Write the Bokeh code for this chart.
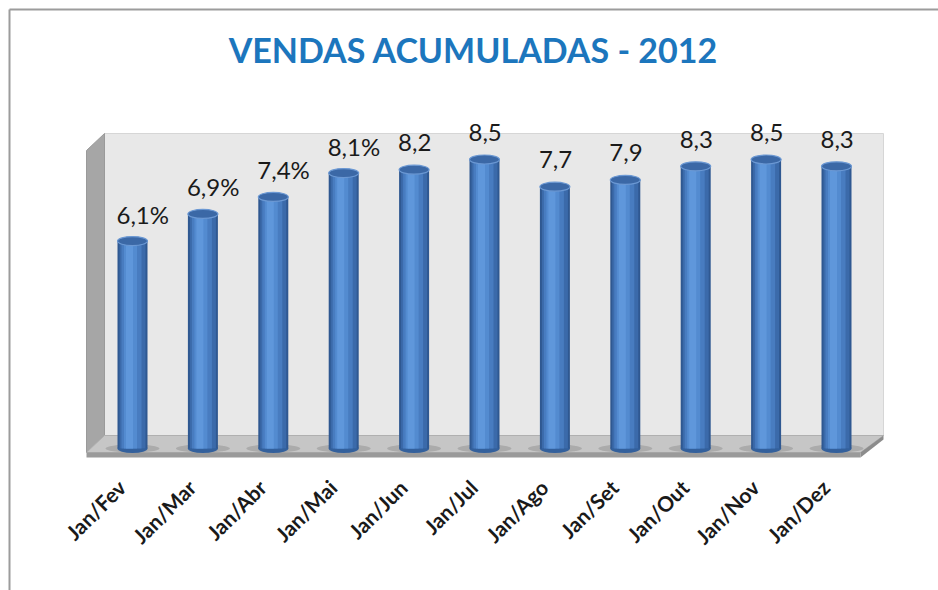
import numpy as np
from bokeh.plotting import figure
from bokeh.models import Range1d, Label
from bokeh.transform import dodge
from bokeh.core.properties import value
from bokeh.embed import file_html
from bokeh.resources import INLINE

# ---- data ----
periods = ["Jan/Fev", "Jan/Mar", "Jan/Abr", "Jan/Mai", "Jan/Jun", "Jan/Jul",
           "Jan/Ago", "Jan/Set", "Jan/Out", "Jan/Nov", "Jan/Dez"]
sales = [6.1, 6.9, 7.4, 8.1, 8.2, 8.5, 7.7, 7.9, 8.3, 8.5, 8.3]
value_labels = ["6,1%", "6,9%", "7,4%", "8,1%", "8,2", "8,5", "7,7", "7,9", "8,3", "8,5", "8,3"]
title_text = "VENDAS ACUMULADAS - 2012"

W, H = 938, 590
# pixel <-> data mapping for the full-canvas frame
SX = 70.4          # px per category
SY = 34.0          # px per unit
XS = -132.0 / SX
XE = XS + W / SX
YE = 448.0 / SY
YS = YE - H / SY

def X(px):
    return XS + px / SX

def Y(py):
    return YE - py / SY

idx = list(range(len(periods)))

p = figure(width=W, height=H, x_range=Range1d(XS, XE), y_range=Range1d(YS, YE),
           min_border=0, output_backend="svg", toolbar_location=None,
           x_axis_location=None, y_axis_location=None)
p.grid.visible = False
p.outline_line_color = None
p.background_fill_color = "white"
p.border_fill_color = "white"

# outer chart border (top and left)
p.line([X(9), X(9)], [Y(9), Y(600)], line_color="#9c9c9c", line_width=2)
p.line([X(9), X(940)], [Y(9), Y(9)], line_color="#9c9c9c", line_width=2)

# 3D walls
p.patch([X(104), X(883), X(883), X(104)], [Y(133), Y(133), Y(435), Y(435)],
        fill_color="#e8e8e8", line_color="#d6d6d6", line_width=1)
p.patch([X(86), X(104), X(104), X(86)], [Y(150), Y(133), Y(435), Y(452)],
        fill_color="#a6a6a6", line_color="#9a9a9a", line_width=1)
# floor
p.patch([X(104), X(883), X(860), X(86)], [Y(435), Y(435), Y(452), Y(452)],
        fill_color="#c6c6c6", line_color="#b0b0b0", line_width=1)
p.patch([X(86), X(860), X(860), X(86)], [Y(452), Y(452), Y(457), Y(457)],
        fill_color="#9a9a9a", line_color=None)
p.patch([X(860), X(883), X(883), X(860)], [Y(452), Y(435), Y(439), Y(457)],
        fill_color="#8c8c8c", line_color=None)

zeros = [0] * len(sales)
bw = 30.0 / SX
# floor shadows
p.ellipse(x=idx, y=zeros, width=54.0 / SX, height=8.0 / SY,
          fill_color="#8a8a8a", fill_alpha=0.45, line_color=None)
# bottom cap
p.ellipse(x=idx, y=zeros, width=bw, height=9.0 / SY, fill_color="#33609c", line_color=None)

src = dict(x=idx, top=sales)
layers = [(30, 0, "#2f5891"), (26, 0, "#3b6aaa"), (20, -1, "#487cc0"),
          (13, -2, "#538bd0"), (7, -3, "#5f97db")]
for wpx, off, col in layers:
    p.vbar(x=dodge("x", off / SX), width=wpx / SX, bottom=0, top="top", source=src,
           fill_color=col, line_color=None)

# top caps
p.ellipse(x=idx, y=sales, width=bw, height=9.0 / SY,
          fill_color="#3b68a6", line_color="#6b98d3", line_width=1.2)

# value labels
p.text(x=idx, y=sales, text=value_labels, text_align="left", text_baseline="alphabetic",
       x_offset=-16, y_offset=-27, text_font=value("Lato"), text_font_size="24px",
       text_color="#1a1a1a")

# category labels (rotated)
p.text(x=idx, y=[Y(483)] * len(periods), text=periods, angle=np.pi / 4,
       text_align="right", text_baseline="middle", x_offset=-11,
       text_font=value("Lato"), text_font_size="21px", text_font_style="bold",
       text_color="#1a1a1a")

title = Label(x=X(473), y=Y(49), text=title_text, text_align="center",
              text_baseline="alphabetic", text_font="Lato", text_font_size="34px",
              text_font_style="bold", text_color="#1c76bd")
p.add_layout(title)

open("out.html", "w").write(file_html(p, INLINE))
